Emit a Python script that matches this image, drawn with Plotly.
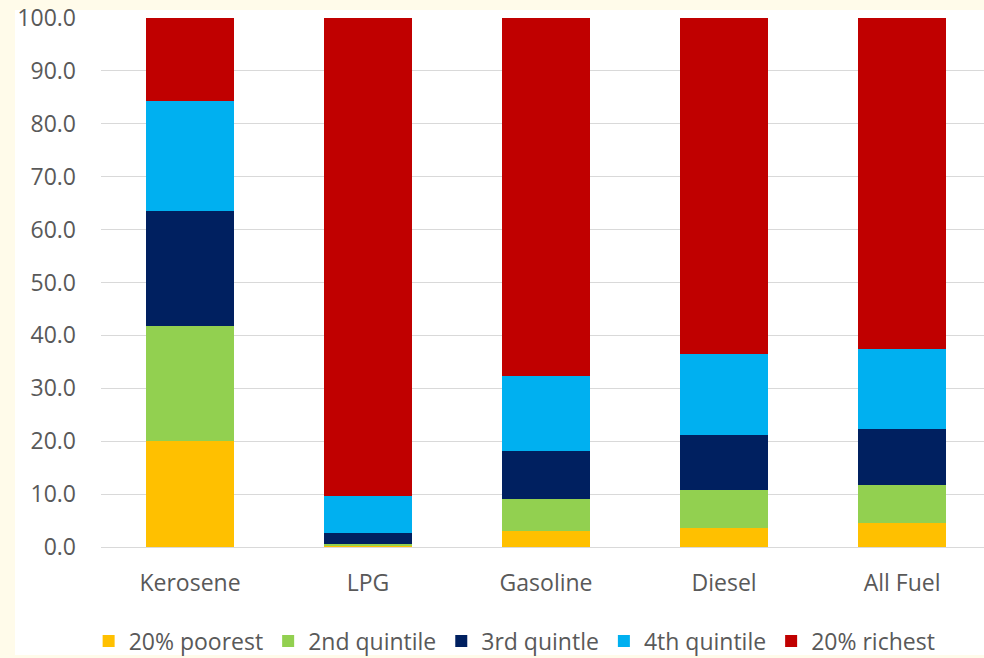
import plotly.graph_objects as go

# Share of fuel subsidy benefits by income quintile (%)
categories = ["Kerosene", "LPG", "Gasoline", "Diesel", "All Fuel"]
series_names = ["20% poorest", "2nd quintile", "3rd quintle", "4th quintile", "20% richest"]
poorest = [20.0, 0.3, 3.0, 3.5, 4.5]
second = [21.8, 0.3, 6.1, 7.3, 7.3]
third = [21.7, 2.0, 9.1, 10.4, 10.5]
fourth = [20.8, 7.0, 14.2, 15.3, 15.1]
richest = [15.7, 90.4, 67.6, 63.5, 62.6]
y_ticks = [0, 10, 20, 30, 40, 50, 60, 70, 80, 90, 100]

series_values = [poorest, second, third, fourth, richest]
colors = ["#FFC000", "#92D050", "#002060", "#00B0F0", "#C00000"]

W, H = 984, 658
font_family = "'Open Sans', Lato, sans-serif"
text_color = "#595959"
fs = 23

fig = go.Figure()
for name, vals, col in zip(series_names, series_values, colors):
    fig.add_trace(go.Bar(
        x=categories, y=vals, name=name,
        marker=dict(color=col, line=dict(width=0)),
    ))

fig.update_layout(
    width=W, height=H,
    barmode="stack",
    bargap=0.505,
    margin=dict(l=0, r=0, t=0, b=0, autoexpand=False),
    paper_bgcolor="#FFFBEA",
    plot_bgcolor="rgba(0,0,0,0)",
    font=dict(family=font_family, size=fs, color=text_color),
    showlegend=True,
    legend=dict(
        orientation="h",
        x=0.523, xanchor="center",
        y=(H - 641) / H, yanchor="middle",
        font=dict(size=fs, color=text_color),
        bgcolor="rgba(0,0,0,0)",
        traceorder="normal",
        itemwidth=30,
        tracegroupgap=0,
    ),
    xaxis=dict(
        domain=[101 / W, 1.0],
        range=[-0.5, 4.46],
        showgrid=False, showline=False, zeroline=False,
        ticks="", ticklabelstandoff=20,
        tickfont=dict(size=fs, color=text_color),
    ),
    yaxis=dict(
        domain=[(H - 547) / H, (H - 18) / H],
        range=[0, 100],
        tickvals=y_ticks,
        tickformat=".1f",
        showgrid=True, gridcolor="#D9D9D9", gridwidth=1,
        zeroline=True, zerolinecolor="#D9D9D9", zerolinewidth=1,
        showline=False, ticks="", ticklabelstandoff=24,
        tickfont=dict(size=fs, color=text_color),
    ),
    shapes=[dict(
        type="rect", xref="paper", yref="paper",
        x0=15 / W, x1=1.0, y0=3 / H, y1=(H - 10) / H,
        fillcolor="white", line=dict(width=0), layer="below",
    )],
)

fig.write_html("out.html")
